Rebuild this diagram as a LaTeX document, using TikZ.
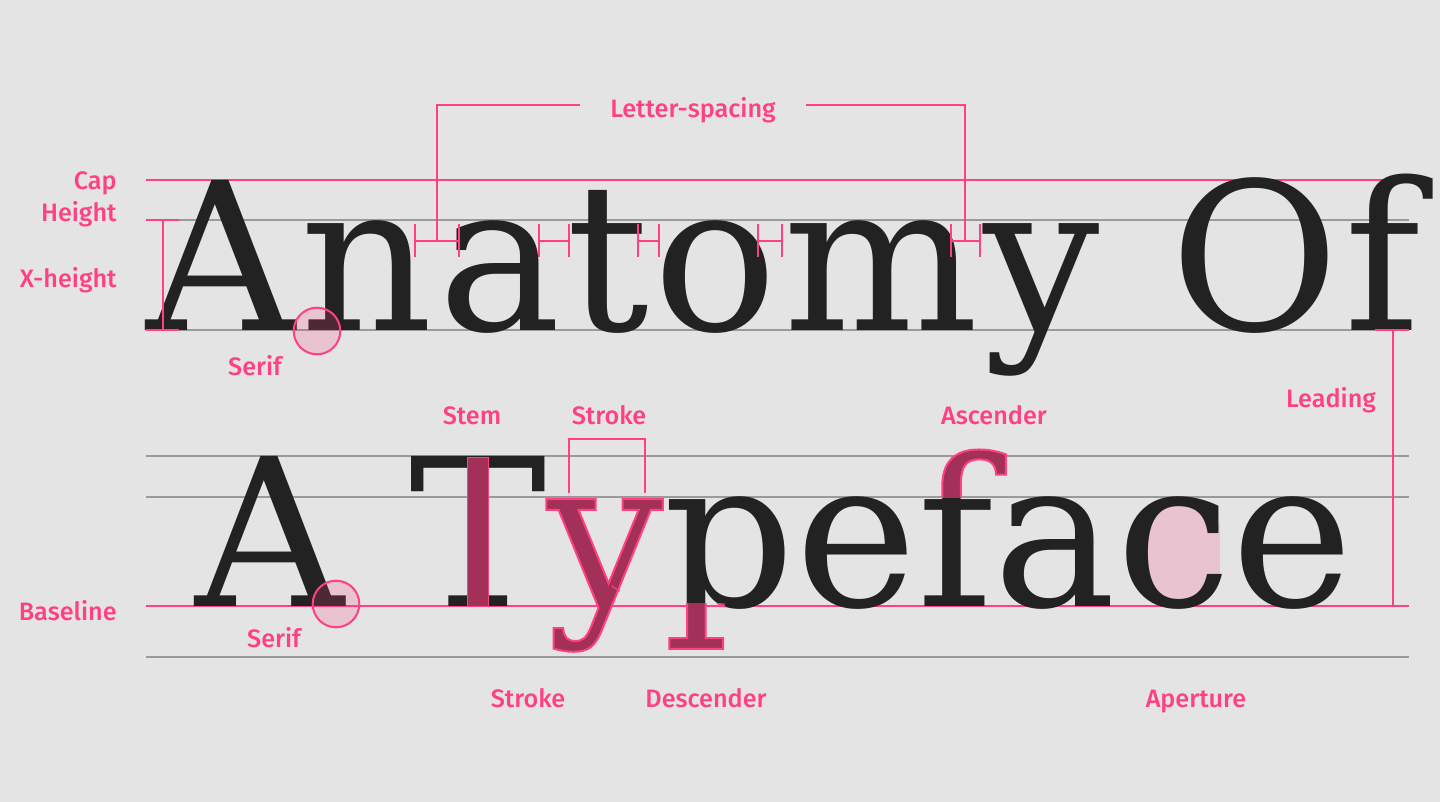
\documentclass[tikz,border=0pt]{standalone}
\usepackage{fontspec}
\usepackage{tikz}
\usetikzlibrary{calc}

\newfontfamily\labelface{Fira Sans Medium}
\newfontfamily\specimenface{DejaVu Serif}[Kerning=Off]
\newfontfamily\trackedface{DejaVu Serif}[Kerning=Off,LetterSpace=2.5]
\newcommand\bigserif{\specimenface\fontsize{103}{103}\selectfont}
\newcommand\bigtracked{\trackedface\fontsize{103}{103}\selectfont}
% glyph filled in berry and stroked in pink
\newcommand\outlined[1]{{\color{berry}\special{pdf:literal direct 2 Tr 1 w 1 0.251 0.506 RG}#1\special{pdf:literal direct 0 Tr}}}

\definecolor{paper}{HTML}{E4E4E4}
\definecolor{accent}{HTML}{FF4081}
\definecolor{rule}{HTML}{9A9A9A}
\definecolor{ink}{HTML}{222222}
\definecolor{berry}{HTML}{A33059}
\definecolor{blush}{HTML}{E9C4D0}

\newdimen\wA
\newdimen\wT
\newdimen\wAT
\newdimen\wATy
\newdimen\wpreC

\begin{document}
\settowidth\wA{\bigserif A }
\settowidth\wT{\bigserif T}
\settowidth\wAT{\bigserif A T}
\settowidth\wATy{\bigserif A Ty}
\settowidth\wpreC{\bigserif A Typefa}
\begin{tikzpicture}[x=0.5pt,y=-0.5pt,
  guide/.style={draw=rule, line width=1pt},
  accentline/.style={draw=accent, line width=1pt},
  label/.style={text=accent, font=\labelface\fontsize{12.6}{16.2}\selectfont, inner sep=0pt, anchor=base},
  specimen/.style={font=\bigserif, text=ink, inner sep=0pt, text depth=0pt, anchor=base west},
  highlight/.style={fill=berry, draw=accent, line width=0.5pt},
  serifring/.style={draw=accent, line width=1pt, fill=accent, fill opacity=0.2}]
\fill[paper] (0,0) rectangle (1440,802);
\useasboundingbox (0,0) rectangle (1440,802);

% guide lines
\foreach \y in {220,330,456,497,657}
  \draw[guide] (146,\y) -- (1409,\y);
\draw[accentline] (146,180) -- (1395,180);
\draw[accentline] (146,606) -- (1409,606);

\coordinate (origin1) at (146,330);
\coordinate (origin2) at (195,606);
\coordinate (tstart) at ($(origin2)+(\wA,0pt)$);
\coordinate (ystart) at ($(origin2)+(\wAT,0pt)$);
\coordinate (pstart) at ($(origin2)+(\wATy,0pt)$);
\coordinate (cstart) at ($(origin2)+(\wpreC,0pt)$);

% aperture of the c, under the glyph
\begin{scope}[shift={(cstart)}]
\fill[blush] (104,-82) -- (104,-28) .. controls (96,-10) and (78,-5) .. (60,-5)
  .. controls (36,-5) and (28,-30) .. (28,-55) .. controls (28,-85) and (40,-102) .. (62,-102)
  .. controls (82,-102) and (96,-95) .. cycle;
\end{scope}

% specimen lines
\node[specimen, font=\bigtracked] (anatomy) at (origin1) {Anatomy Of};
\node[specimen] (typeface) at (origin2) {A T\outlined{y}peface};

% stem of the T
\coordinate (tmid) at ($(tstart)+(0.5\wT,0pt)$);
\draw[highlight] ($(tmid)+(-10.5,0)$) rectangle ($(tmid)+(10.5,-149)$);

% joint of the two strokes of the y
\draw[accentline, line width=0.6pt] ($(ystart)+(65,-20)$) -- ($(ystart)+(73,-15)$);

% descender of the p
\begin{scope}
\clip ($(pstart)+(-3,-3)$) rectangle ($(pstart)+(62,60)$);
\node[specimen] (pglyph) at (origin2) {\phantom{A Ty}\outlined{p}};
\end{scope}

% ascender of the f
\begin{scope}
\clip (146,430) rectangle (1409,497);
\node[specimen] (fglyph) at (origin2) {\phantom{A Type}\outlined{f}};
\end{scope}

% serifs
\draw[serifring] (317,331) circle[radius=23.3];
\draw[serifring] (336,604) circle[radius=23.3];

% letter-spacing ticks
\foreach \xa/\xb in {415/459,539/569,638/659,758/782,951/980}
  \draw[accentline] (\xa,224) -- (\xa,257) (\xa,241) -- (\xb,241) (\xb,224) -- (\xb,257);

% x-height and leading
\draw[accentline] (146,220) -- (179,220) (163,220) -- (163,330) (146,330) -- (179,330);
\draw[accentline] (1375,330) -- (1409,330) (1393,330) -- (1393,606);

% labels
\node[label, anchor=north east, align=right] (capheight) at (117,171) {Cap\\Height};
\node[label, anchor=base east] (xheight) at (117,287) {X-height};
\node[label, anchor=base east] (baseline) at (117,620) {Baseline};
\node[label] (serifa) at (255,375) {Serif};
\node[label] (serifb) at (274,647) {Serif};
\node[label] (lettersp) at (693,118) {Letter-spacing};
\node[label] (stem) at (472,424) {Stem};
\node[label] (stroketop) at (609,424) {Stroke};
\node[label] (ascender) at (994,424) {Ascender};
\node[label] (leading) at (1331,407) {Leading};
\node[label] (strokebottom) at (528,707) {Stroke};
\node[label] (descender) at (706,707) {Descender};
\node[label] (aperture) at (1196,707) {Aperture};

% brackets
\draw[accentline] ($(lettersp.base west)+(-30,-13)$) -| (437,241);
\draw[accentline] ($(lettersp.base east)+(30,-13)$) -| (965,241);
\draw[accentline] (569,493) |- (645,439) -- (645,493);
\end{tikzpicture}
\end{document}
